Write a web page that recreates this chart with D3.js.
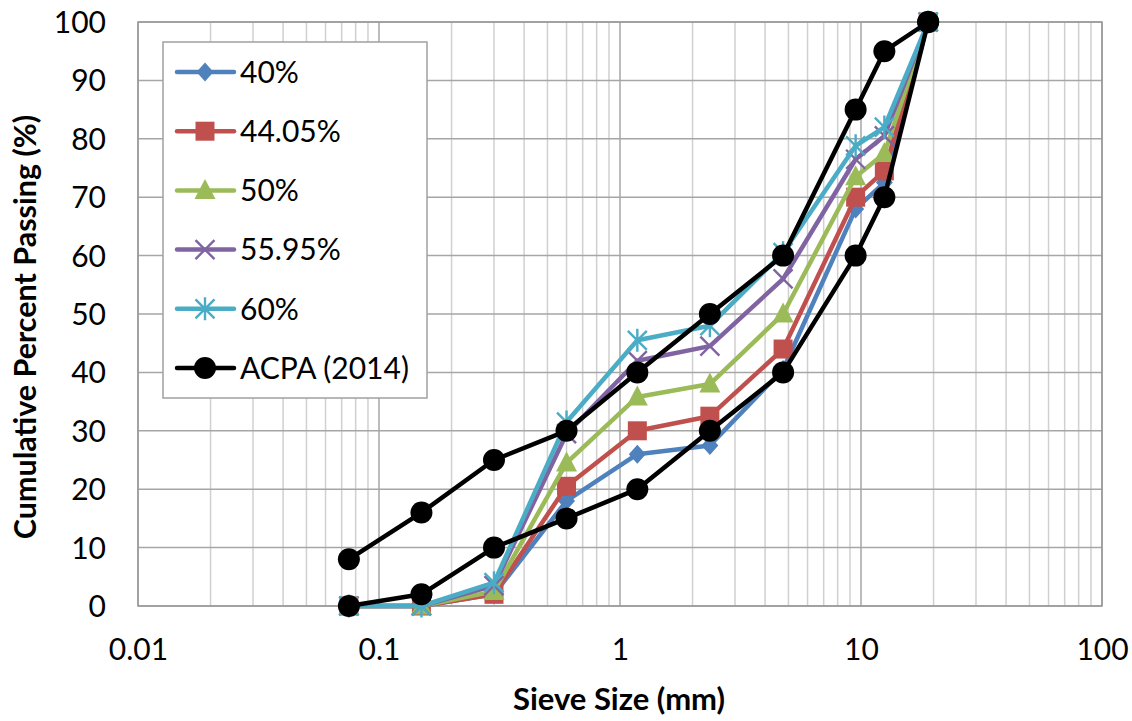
<!DOCTYPE html>
<html>
<head>
<meta charset="utf-8">
<script src="https://cdn.jsdelivr.net/npm/d3@7"></script>
<style>
  html, body { margin: 0; padding: 0; background: #fff; }
  svg { display: block; }
  text { font-family: Lato, "Open Sans", sans-serif; fill: #000; }
</style>
</head>
<body>
<svg id="chart" width="1132" height="721"></svg>
<script>
// Sieve sizes (mm)
const sieveSizes = [0.075, 0.15, 0.3, 0.6, 1.18, 2.36, 4.75, 9.5, 12.5, 19];

// Cumulative percent passing for each blend
const blend40   = [0, 0, 2.0, 18.0, 26.0, 27.5, 40.5, 68.0, 72.5, 100];
const blend4405 = [0, 0, 2.0, 20.5, 30.0, 32.5, 44.0, 70.0, 74.5, 100];
const blend50   = [0, 0, 2.5, 24.5, 35.8, 38.0, 50.0, 73.5, 77.5, 100];
const blend5595 = [0, 0, 3.5, 29.5, 42.0, 44.5, 56.0, 76.5, 80.5, 100];
const blend60   = [0, 0, 4.0, 31.5, 45.5, 48.0, 60.5, 78.8, 82.0, 100];

// ACPA (2014) gradation band: upper and lower limits
const acpaUpper = [8, 16, 25, 30, 40, 50, 60, 85, 95, 100];
const acpaLower = [0, 2, 10, 15, 20, 30, 40, 60, 70, 100];

const seriesNames = ["40%", "44.05%", "50%", "55.95%", "60%", "ACPA (2014)"];
const xTickValues = [0.01, 0.1, 1, 10, 100];
const xTickLabels = ["0.01", "0.1", "1", "10", "100"];
const yTickValues = [0, 10, 20, 30, 40, 50, 60, 70, 80, 90, 100];

const series = [
  { name: seriesNames[0], values: [blend40],   color: "#4F81BD", marker: "diamond" },
  { name: seriesNames[1], values: [blend4405], color: "#C0504D", marker: "square" },
  { name: seriesNames[2], values: [blend50],   color: "#9BBB59", marker: "triangle" },
  { name: seriesNames[3], values: [blend5595], color: "#8064A2", marker: "x" },
  { name: seriesNames[4], values: [blend60],   color: "#4BACC6", marker: "star" },
  { name: seriesNames[5], values: [acpaUpper, acpaLower], color: "#000000", marker: "circle" }
];

const svg = d3.select("#chart");
const plot = { left: 138, right: 1102, top: 22, bottom: 606 };

const x = d3.scaleLog().domain([0.01, 100]).range([plot.left, plot.right]);
const y = d3.scaleLinear().domain([0, 100]).range([plot.bottom, plot.top]);

// Minor vertical gridlines (2..9 within each decade)
const minorX = [];
for (let e = -2; e <= 1; e++) {
  for (let m = 2; m <= 9; m++) minorX.push(m * Math.pow(10, e));
}
svg.append("g").selectAll("line").data(minorX).join("line")
  .attr("x1", d => x(d)).attr("x2", d => x(d))
  .attr("y1", plot.top).attr("y2", plot.bottom)
  .attr("stroke", "#d0d0d0").attr("stroke-width", 1.5);

// Major vertical gridlines
svg.append("g").selectAll("line").data(xTickValues).join("line")
  .attr("x1", d => x(d)).attr("x2", d => x(d))
  .attr("y1", plot.top).attr("y2", plot.bottom)
  .attr("stroke", "#a6a6a6").attr("stroke-width", 1.5);

// Horizontal gridlines
svg.append("g").selectAll("line").data(yTickValues).join("line")
  .attr("x1", plot.left).attr("x2", plot.right)
  .attr("y1", d => y(d)).attr("y2", d => y(d))
  .attr("stroke", "#a6a6a6").attr("stroke-width", 1.5);

// Plot border
svg.append("rect")
  .attr("x", plot.left).attr("y", plot.top)
  .attr("width", plot.right - plot.left).attr("height", plot.bottom - plot.top)
  .attr("fill", "none").attr("stroke", "#999").attr("stroke-width", 1.5);

// Axes (labels only, no tick marks or domain line)
const xAxis = d3.axisBottom(x).tickValues(xTickValues)
  .tickFormat((d, i) => xTickLabels[i]).tickSize(0).tickPadding(0);
const gx = svg.append("g").attr("transform", `translate(0,${plot.bottom})`).call(xAxis);
gx.select(".domain").remove();
gx.selectAll("text").attr("font-size", 30).attr("y", 33).attr("dy", "0.71em")
  .style("font-family", "Lato, sans-serif").attr("fill", "#000");

const yAxis = d3.axisLeft(y).tickValues(yTickValues).tickSize(0).tickPadding(0);
const gy = svg.append("g").attr("transform", `translate(${plot.left},0)`).call(yAxis);
gy.select(".domain").remove();
gy.selectAll("text").attr("font-size", 30).attr("x", -32).attr("dy", "0.35em")
  .style("font-family", "Lato, sans-serif").attr("fill", "#000");

// Axis titles
svg.append("text")
  .attr("x", 619).attr("y", 710)
  .attr("text-anchor", "middle").attr("font-size", 31).attr("font-weight", "bold")
  .text("Sieve Size (mm)");
svg.append("text")
  .attr("transform", `translate(36,${(plot.top + plot.bottom) / 2 + 13}) rotate(-90)`)
  .attr("text-anchor", "middle").attr("font-size", 30.5).attr("font-weight", "bold")
  .text("Cumulative Percent Passing (%)");

// Marker drawing
function drawMarker(g, type, color) {
  switch (type) {
    case "diamond":
      g.append("path").attr("d", "M0,-9.5L8.5,0L0,9.5L-8.5,0Z").attr("fill", color);
      break;
    case "square":
      g.append("rect").attr("x", -9.5).attr("y", -9.5).attr("width", 19).attr("height", 19)
        .attr("fill", color);
      break;
    case "triangle":
      g.append("path").attr("d", "M0,-11.5L10.5,8.5L-10.5,8.5Z").attr("fill", color);
      break;
    case "x":
      g.append("path").attr("d", "M-9.5,-9.5L9.5,9.5M-9.5,9.5L9.5,-9.5")
        .attr("stroke", color).attr("stroke-width", 2.4).attr("fill", "none");
      break;
    case "star":
      g.append("path").attr("d", "M-9.5,-9.5L9.5,9.5M-9.5,9.5L9.5,-9.5M0,-11.5L0,11.5")
        .attr("stroke", color).attr("stroke-width", 2.4).attr("fill", "none");
      break;
    case "circle":
      g.append("circle").attr("r", 11).attr("fill", color);
      break;
  }
}

const line = d3.line().x(d => x(d[0])).y(d => y(d[1]));

// Series lines and markers
series.forEach(s => {
  const g = svg.append("g");
  s.values.forEach(vals => {
    const pts = sieveSizes.map((d, i) => [d, vals[i]]);
    g.append("path").datum(pts).attr("d", line)
      .attr("fill", "none").attr("stroke", s.color).attr("stroke-width", 4.5)
      .attr("stroke-linejoin", "round").attr("stroke-linecap", "round");
    pts.forEach(p => {
      const mg = g.append("g").attr("transform", `translate(${x(p[0])},${y(p[1])})`);
      drawMarker(mg, s.marker, s.color);
    });
  });
});

// Legend
const legend = svg.append("g");
legend.append("rect")
  .attr("x", 163).attr("y", 42).attr("width", 264).attr("height", 356)
  .attr("fill", "#fff").attr("stroke", "#a0a0a0").attr("stroke-width", 1.5);
series.forEach((s, i) => {
  const cy = 72 + i * 59.2;
  const lg = legend.append("g");
  lg.append("line").attr("x1", 177).attr("x2", 234).attr("y1", cy).attr("y2", cy)
    .attr("stroke", s.color).attr("stroke-width", 4.5).attr("stroke-linecap", "round");
  drawMarker(lg.append("g").attr("transform", `translate(205,${cy})`), s.marker, s.color);
  lg.append("text").attr("x", 240).attr("y", cy).attr("dy", "0.36em")
    .attr("font-size", 30).text(s.name);
});
</script>
</body>
</html>
